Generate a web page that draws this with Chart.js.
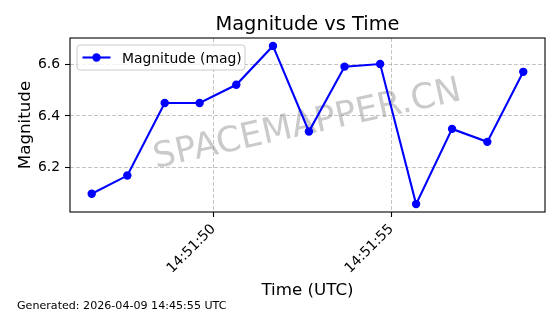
<!DOCTYPE html>
<html><head><meta charset="utf-8">
<script src="https://cdn.jsdelivr.net/npm/chart.js@4.4.1/dist/chart.umd.min.js"></script>
<style>html,body{margin:0;padding:0;background:#fff;}canvas{display:block;}</style>
</head><body>
<canvas id="c" width="560" height="314" style="width:560px;height:314px"></canvas>
<script>
// ---- data ----
const times = ['14:51:46.58','14:51:47.58','14:51:48.63','14:51:49.61','14:51:50.64','14:51:51.67','14:51:52.68','14:51:53.68','14:51:54.68','14:51:55.69','14:51:56.70','14:51:57.69','14:51:58.70'];
const magnitudes = [6.10, 6.17, 6.45, 6.45, 6.52, 6.67, 6.34, 6.59, 6.60, 6.06, 6.35, 6.30, 6.57];
const xTickTimes = ['14:51:50', '14:51:55'];
const yTickValues = [6.2, 6.4, 6.6];
const xRange = ['14:51:45.97', '14:51:59.31'];
const yRange = [6.0295, 6.7005];
const seriesLabel = 'Magnitude (mag)';
const titleText = 'Magnitude vs Time';
const xTitle = 'Time (UTC)';
const yTitle = 'Magnitude';
const footerText = 'Generated: 2026-04-09 14:45:55 UTC';
const watermarkText = 'SPACEMAPPER.CN';

function toSec(t){ const p = t.split(':'); return (+p[0])*3600 + (+p[1])*60 + (+p[2]); }
const points = times.map((t,i)=>({x: toSec(t), y: magnitudes[i]}));
const xTickSecs = xTickTimes.map(toSec);

const FONT = "'DejaVu Sans', sans-serif";
const BLUE = '#0000ff';

const deco = {
  id: 'deco',
  beforeDatasetsDraw(chart){
    const ctx = chart.ctx, a = chart.chartArea;
    ctx.save();
    ctx.translate((a.left+a.right)/2, (a.top+a.bottom)/2);
    ctx.rotate(-12.5*Math.PI/180);
    ctx.font = '35px ' + FONT;
    ctx.fillStyle = 'rgba(128,128,128,0.42)';
    ctx.textAlign = 'center';
    ctx.textBaseline = 'middle';
    ctx.fillText(watermarkText, 0, 0);
    ctx.restore();
  },
  afterDatasetsDraw(chart){
    const ctx = chart.ctx, a = chart.chartArea;
    ctx.save();
    // frame
    ctx.strokeStyle = '#000';
    ctx.lineWidth = 1.1;
    ctx.strokeRect(a.left, a.top, a.right-a.left, a.bottom-a.top);
    // legend
    const lx = a.left + 7, ly = a.top + 7, lw = 168, lh = 25, r = 3;
    ctx.beginPath();
    ctx.moveTo(lx+r, ly); ctx.lineTo(lx+lw-r, ly); ctx.quadraticCurveTo(lx+lw, ly, lx+lw, ly+r);
    ctx.lineTo(lx+lw, ly+lh-r); ctx.quadraticCurveTo(lx+lw, ly+lh, lx+lw-r, ly+lh);
    ctx.lineTo(lx+r, ly+lh); ctx.quadraticCurveTo(lx, ly+lh, lx, ly+lh-r);
    ctx.lineTo(lx, ly+r); ctx.quadraticCurveTo(lx, ly, lx+r, ly);
    ctx.closePath();
    ctx.fillStyle = 'rgba(255,255,255,0.8)';
    ctx.fill();
    ctx.strokeStyle = 'rgba(204,204,204,1)';
    ctx.lineWidth = 1;
    ctx.stroke();
    const ds = chart.data.datasets[0];
    const cy = ly + 12.5;
    ctx.strokeStyle = ds.borderColor; ctx.lineWidth = ds.borderWidth;
    ctx.beginPath(); ctx.moveTo(lx+5.5, cy); ctx.lineTo(lx+33.5, cy); ctx.stroke();
    ctx.fillStyle = ds.pointBackgroundColor;
    ctx.beginPath(); ctx.arc(lx+19.5, cy, ds.pointRadius, 0, Math.PI*2); ctx.fill();
    ctx.fillStyle = '#000';
    ctx.font = '13.9px ' + FONT;
    ctx.textAlign = 'left'; ctx.textBaseline = 'alphabetic';
    ctx.fillText(ds.label, lx+45, ly+17.5);
    ctx.restore();
  },
  afterDraw(chart){
    const ctx = chart.ctx, a = chart.chartArea;
    ctx.save();
    ctx.fillStyle = '#000';
    ctx.textAlign = 'center'; ctx.textBaseline = 'alphabetic';
    ctx.font = '19.4px ' + FONT;
    ctx.fillText(titleText, (a.left+a.right)/2, 30);
    ctx.font = '16.7px ' + FONT;
    ctx.fillText(xTitle, (a.left+a.right)/2, 295);
    ctx.save();
    ctx.translate(29.5, (a.top+a.bottom)/2);
    ctx.rotate(-Math.PI/2);
    ctx.fillText(yTitle, 0, 0);
    ctx.restore();
    ctx.textAlign = 'left';
    ctx.font = '11.1px ' + FONT;
    ctx.fillText(footerText, 17, 308.5);
    ctx.restore();
  }
};

new Chart(document.getElementById('c'), {
  type: 'line',
  data: { datasets: [{
    label: seriesLabel,
    data: points,
    borderColor: BLUE,
    backgroundColor: BLUE,
    pointBackgroundColor: BLUE,
    pointBorderWidth: 0,
    pointRadius: 4.2,
    borderWidth: 2.1,
    tension: 0,
    fill: false
  }]},
  options: {
    responsive: false,
    devicePixelRatio: 1,
    animation: false,
    layout: { padding: { left: 0, right: 15, top: 38, bottom: 0 } },
    plugins: { legend: { display: false }, title: { display: false }, tooltip: { enabled: false } },
    scales: {
      x: {
        type: 'linear',
        min: toSec(xRange[0]), max: toSec(xRange[1]),
        afterBuildTicks: s => { s.ticks = xTickSecs.map(v => ({value: v})); },
        afterFit: s => { s.height = 102; },
        border: { display: false, dash: [4, 2] },
        grid: { color: 'rgba(176,176,176,0.75)', lineWidth: 1, tickColor: '#000', tickLength: 5, tickWidth: 1.1, tickBorderDash: [] },
        ticks: {
          color: '#000', font: { family: FONT, size: 13.9 }, padding: 4,
          minRotation: 45, maxRotation: 45, autoSkip: false,
          callback: v => { const i = xTickSecs.indexOf(v); return i >= 0 ? xTickTimes[i] : ''; }
        }
      },
      y: {
        min: yRange[0], max: yRange[1],
        afterBuildTicks: s => { s.ticks = yTickValues.map(v => ({value: v})); },
        afterFit: s => { s.width = 70; },
        border: { display: false, dash: [4, 2] },
        grid: { color: 'rgba(176,176,176,0.75)', lineWidth: 1, tickColor: '#000', tickLength: 5, tickWidth: 1.1, tickBorderDash: [] },
        ticks: { color: '#000', font: { family: FONT, size: 13.9 }, padding: 5, callback: v => v.toFixed(1) }
      }
    }
  },
  plugins: [deco]
});
</script>
</body></html>
